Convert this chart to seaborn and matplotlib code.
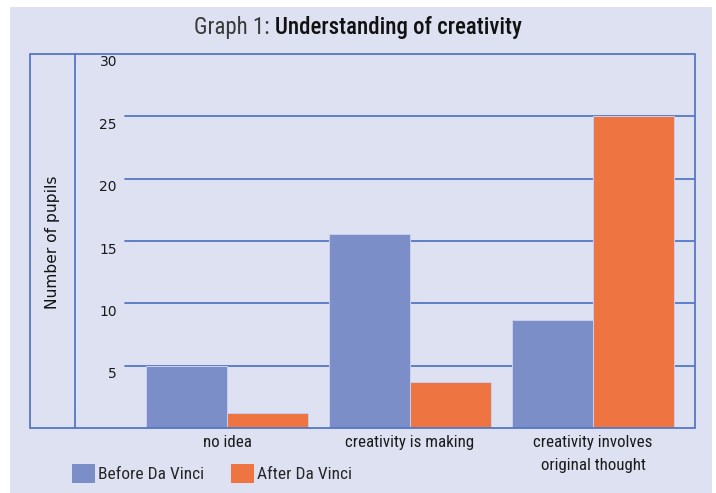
import matplotlib
matplotlib.use("Agg")
import matplotlib.pyplot as plt
from matplotlib import font_manager
from matplotlib.patches import Rectangle, Patch
import seaborn as sns
import pandas as pd

# Survey results: pupils' understanding of creativity, before and after the project
categories = ["no idea", "creativity is making", "creativity involves\noriginal thought"]
before_vals = [5.0, 15.6, 8.7]
after_vals = [1.2, 3.7, 25.0]
series_names = ["Before Da Vinci", "After Da Vinci"]
y_ticks = [5, 10, 15, 20, 25, 30]

BLUE = "#7b8ec8"
ORANGE = "#ee7541"
PANEL = "#dee1f2"
LINE = "#5677c4"


def pick_font(candidates):
    for name in candidates:
        try:
            font_manager.findfont(font_manager.FontProperties(family=name),
                                  fallback_to_default=False)
            return name
        except Exception:
            continue
    return "DejaVu Sans"


NARROW_NAME = pick_font(["Roboto Condensed", "Liberation Sans Narrow",
                         "Open Sans Condensed", "Liberation Sans"])
NARROW = [NARROW_NAME, "DejaVu Sans"]

sns.set_theme(style="white")
plt.rcParams["font.family"] = ["DejaVu Sans"]

df = pd.DataFrame({
    "category": categories * 2,
    "series": [series_names[0]] * 3 + [series_names[1]] * 3,
    "pupils": before_vals + after_vals,
})

W, H = 716, 493
fig = plt.figure(figsize=(W / 100, H / 100), dpi=100, facecolor="white")


def fx(px):
    return px / W


def fy(py):
    return 1 - py / H


# lavender panel behind everything
fig.patches.append(Rectangle((fx(10), 0), fx(712) - fx(10), fy(7), transform=fig.transFigure,
                             facecolor=PANEL, edgecolor="none", zorder=-5))
# outer frame of the chart (incl. axis-title column)
fig.patches.append(Rectangle((fx(30.5), fy(428)), fx(695) - fx(30.5), fy(54) - fy(428),
                             transform=fig.transFigure, facecolor="none",
                             edgecolor=LINE, linewidth=1.3, zorder=5))

L, R, T, B = 75, 695, 54, 428
ax = fig.add_axes([fx(L), fy(B), fx(R) - fx(L), fy(T) - fy(B)])
ax.set_facecolor("none")

sns.barplot(data=df, x="category", y="pupils", hue="series", order=categories,
            hue_order=series_names, palette=[BLUE, ORANGE], saturation=1, width=0.885,
            edgecolor="#c9cfec", linewidth=0.7, legend=False, ax=ax, zorder=2)

ax.set_ylim(0, 30)
ax.set_xlim(-0.8306, 2.557)

# horizontal grid lines
for v in y_ticks[:-1]:
    ax.axhline(v, xmin=(125 - L) / (R - L), xmax=1, color=LINE, linewidth=1.3, zorder=1)

# y tick labels, hanging just under their grid lines
ax.set_yticks([])
ytrans = ax.get_yaxis_transform()
for v in y_ticks:
    ax.annotate(str(v), xy=((117 - L) / (R - L), v), xycoords=ytrans,
                xytext=(0, -8.5), textcoords="offset pixels",
                ha="right", va="center", fontsize=10, color="#1a1a1a",
                family=["DejaVu Sans"])

for s in ["top", "right", "bottom"]:
    ax.spines[s].set_visible(False)
ax.spines["left"].set_color(LINE)
ax.spines["left"].set_linewidth(1.3)

ax.set_xlabel("")
ax.set_ylabel("")
ax.tick_params(axis="x", length=0, pad=5)
ax.set_xticks(range(len(categories)))
ax.set_xticklabels(categories, fontsize=12.2, color="#1a1a1a", family=NARROW,
                   linespacing=1.65)

# axis title in its own column
fig.text(fx(52), fy(242), "Number of pupils", rotation=90, ha="center", va="center",
         fontsize=11.2, color="#111111", family=["DejaVu Sans"])

# title: plain prefix + bold subject
t1 = fig.text(0, fy(34), "Graph 1: ", fontsize=16.5, color="#3a3a3a", family=NARROW,
              fontweight="normal", ha="left", va="baseline")
t2 = fig.text(0, fy(34), "Understanding of creativity", fontsize=16.5, color="#111111",
              family=NARROW, fontweight="medium", ha="left", va="baseline")
fig.canvas.draw()
r = fig.canvas.get_renderer()
w1 = t1.get_window_extent(r).width
w2 = t2.get_window_extent(r).width
x0 = 358 - (w1 + w2) / 2
t1.set_x(x0 / W)
t2.set_x((x0 + w1) / W)

handles = [Patch(facecolor=BLUE, edgecolor="none"), Patch(facecolor=ORANGE, edgecolor="none")]
fig.legend(handles, series_names, loc="upper left", bbox_to_anchor=(fx(72), fy(464)),
           ncol=2, frameon=False, borderpad=0, borderaxespad=0,
           handlelength=1.3, handleheight=1.3, handletextpad=0.2, columnspacing=1.55,
           prop={"family": NARROW, "size": 12.5})

fig.savefig("out.png", dpi=100, facecolor="white")
